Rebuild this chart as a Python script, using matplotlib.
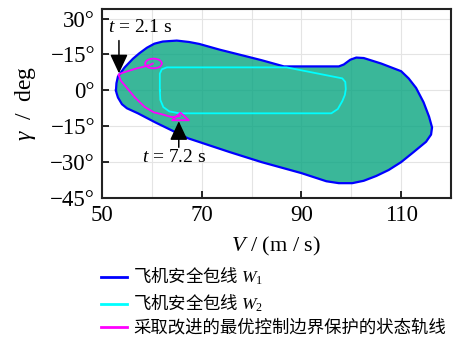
import matplotlib
matplotlib.use("Agg")
import matplotlib.pyplot as plt
from matplotlib.lines import Line2D
from matplotlib.path import Path
from matplotlib.transforms import Affine2D

plt.rcParams['font.family'] = ['Liberation Serif', 'Noto Sans CJK SC', 'DejaVu Sans']
plt.rcParams['mathtext.fontset'] = 'custom'
plt.rcParams['mathtext.rm'] = 'Liberation Serif'
plt.rcParams['mathtext.it'] = 'Liberation Serif:italic'
plt.rcParams['mathtext.sf'] = 'Noto Sans CJK SC'

# envelope W1 boundary (V in m/s, gamma in deg)
w1_v = [52.8, 52.9, 53.2, 54.5, 56.2, 57.5, 59.0, 60.5, 62.2, 65.0, 67.5, 69.5,
        73.6, 78.2, 82.0, 86.5, 97.5, 98.5, 99.8, 101.0, 102.5, 106.0, 110.0,
        111.5, 113.0, 114.5, 115.6, 116.2, 116.0, 115.0, 112.5, 110.0, 107.5,
        105.0, 102.5, 100.2, 97.5, 95.0, 90.0, 82.0, 75.6, 67.2, 60.6, 57.2,
        55.0, 54.0, 53.2, 52.9]
w1_g = [0.0, 3.0, 5.8, 9.5, 13.2, 15.5, 17.8, 19.5, 20.4, 20.8, 20.2, 19.4,
        17.0, 14.6, 12.6, 10.0, 10.0, 10.8, 12.8, 13.7, 13.5, 11.2, 8.0,
        5.0, 1.0, -5.0, -11.0, -15.5, -18.5, -21.5, -25.8, -30.0, -33.3,
        -35.8, -37.8, -38.8, -38.8, -38.0, -34.6, -30.0, -25.8, -20.0, -13.3, -9.6,
        -7.5, -5.8, -3.0, -1.0]

# envelope W2 boundary
w2_v = [61.6, 61.6, 62.0, 63.0, 87.0, 98.2, 98.8, 98.9, 98.7, 98.2, 97.3, 96.0,
        65.5, 63.5, 62.3, 61.7, 61.6]
w2_g = [0.0, 7.0, 8.8, 9.6, 9.6, 5.0, 3.5, 0.5, -2.0, -4.5, -7.8, -9.6,
        -9.6, -8.8, -7.0, -4.0, 0.0]

# state trajectory with improved boundary protection
tr_v = [60.2, 59.6, 58.6, 57.0, 55.6, 54.2, 53.3, 53.8, 55.0, 56.6, 58.6, 60.4,
        62.0, 64.0, 65.6]
tr_g = [11.2, 10.6, 10.0, 9.2, 8.3, 7.4, 6.6, 4.0, 1.0, -3.0, -7.0, -9.2,
        -10.0, -11.2, -10.8]
start_v, start_g = 60.2, 11.4
end_v, end_g = 65.6, -10.6

arrow1 = (53.4, 20.8, 53.4, 7.1)
arrow2 = (65.4, -23.8, 65.4, -12.9)
note1 = (57.6, 26.2, '$t$ = 2.1 s')
note2 = (64.5, -27.9, '$t$ = 7.2 s')

x_ticks = [50, 70, 90, 110]
x_minor = [60, 80, 100]
y_ticks = [30, 15, 0, -15, -30, -45]
y_labels = ['30°', '−15°', '0°', '−15°', '−30°', '−45°']

legend_labels = [r'$\mathsf{飞机安全包线}\ W_{1}$', r'$\mathsf{飞机安全包线}\ W_{2}$',
                 '采取改进的最优控制边界保护的状态轨线']

fig = plt.figure(figsize=(4.53, 3.38), dpi=100)
ax = fig.add_axes([102/453, 1-198/338, 349/453, 189/338])

ax.fill(w1_v, w1_g, color='#08a580', alpha=0.8, lw=0, zorder=2)
ax.plot(w1_v + w1_v[:1], w1_g + w1_g[:1], color='#0000ff', lw=1.6, zorder=3)
ax.plot(w2_v, w2_g, color='#00ffff', lw=1.3, zorder=3)
ax.plot(tr_v, tr_g, color='#ff00ff', lw=1.3, zorder=4)

oval = Path.unit_circle().transformed(Affine2D().scale(1, 0.58))
ax.plot([start_v], [start_g], marker=oval, ms=12, mfc='none', mec='#ff00ff', mew=1.3, zorder=4)
tri = Path([(-1, -0.45), (1, -0.45), (0, 0.45), (-1, -0.45)],
           [Path.MOVETO, Path.LINETO, Path.LINETO, Path.CLOSEPOLY])
ax.plot([end_v], [end_g], marker=tri, ms=12, mfc='none', mec='#ff00ff', mew=1.3, zorder=4)

for x0, y0, x1, y1 in (arrow1, arrow2):
    ax.annotate('', xy=(x1, y1), xytext=(x0, y0),
                arrowprops=dict(arrowstyle='-|>,head_length=0.58,head_width=0.27',
                                mutation_scale=20, color='black', lw=1.1,
                                shrinkA=0, shrinkB=0), zorder=5)
for x, y, s in (note1, note2):
    ax.text(x, y, s, fontsize=14, ha='center', va='center', zorder=5)

ax.set_xlim(50, 120)
ax.set_ylim(-45, 34)
ax.set_xticks(x_ticks)
ax.set_xticks(x_minor, minor=True)
ax.set_yticks(y_ticks)
ax.set_yticklabels(y_labels)
ax.tick_params(which='major', direction='in', length=5, width=1.2, labelsize=16.5, pad=5)
ax.tick_params(which='minor', length=0)
ax.grid(True, which='both', color='#e4e4e4', lw=0.8, zorder=0)
ax.set_axisbelow(True)
for sp in ax.spines.values():
    sp.set_linewidth(1.5)
    sp.set_color('#222222')

ax.set_xlabel('$V$ / (m / s)', fontsize=16)
ax.set_ylabel(r'$\gamma$  /  deg', fontsize=17)
ax.xaxis.set_label_coords(0.5, (198 - 235) / 189)
ax.yaxis.set_label_coords((38 - 102) / 349, 0.5)

handles = [Line2D([], [], color=c, lw=2) for c in ('#0000ff', '#00ffff', '#ff00ff')]
fig.legend(handles, legend_labels, loc='upper left', bbox_to_anchor=(101/453, 1-266/338),
           frameon=False, fontsize=12.5, handlelength=1.5, handletextpad=0.35,
           labelspacing=0.32, borderaxespad=0, borderpad=0)

fig.savefig('out.png', dpi=100)
